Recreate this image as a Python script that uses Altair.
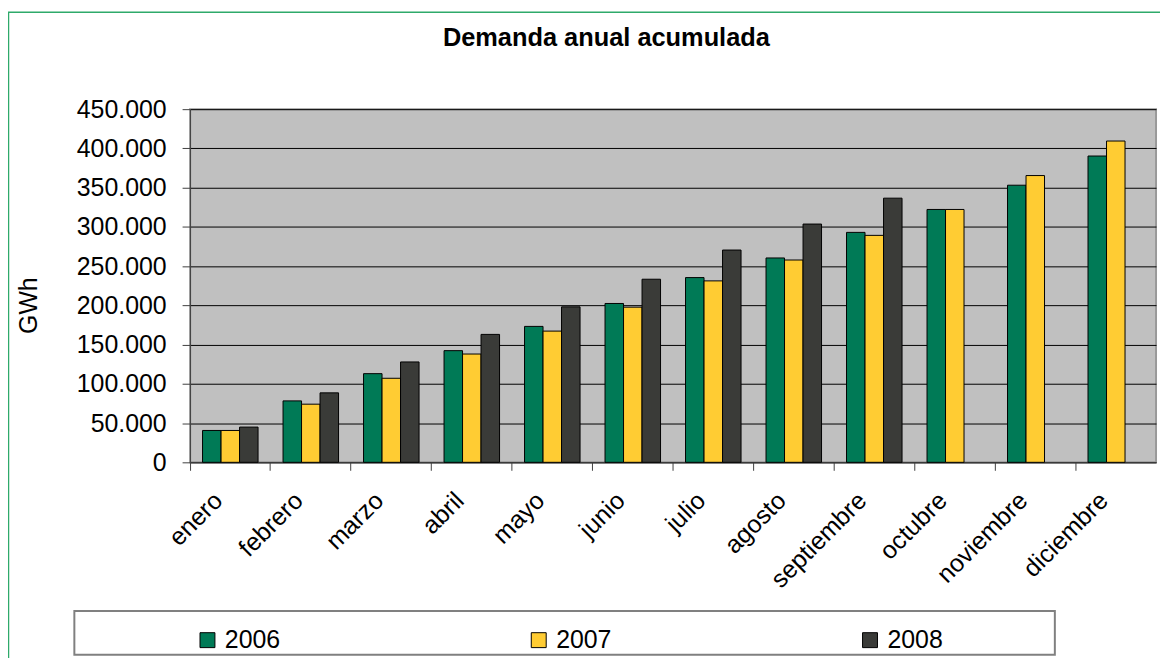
import altair as alt
import pandas as pd

months = ["enero", "febrero", "marzo", "abril", "mayo", "junio", "julio",
          "agosto", "septiembre", "octubre", "noviembre", "diciembre"]
years = ["2006", "2007", "2008"]
d2006 = [40600, 78300, 113000, 142300, 173200, 202400, 235400, 260400, 293000, 322200, 353100, 390300]
d2007 = [40600, 74100, 107100, 138000, 167200, 197700, 231200, 257800, 289200, 322200, 365400, 409400]
d2008 = [44900, 88500, 127900, 163000, 198100, 233300, 270500, 303600, 336600, None, None, None]
y_ticks = [0, 50000, 100000, 150000, 200000, 250000, 300000, 350000, 400000, 450000]
colors = ["#007A56", "#FFCC33", "#3A3B38"]

rows = []
for yr, series in zip(years, [d2006, d2007, d2008]):
    for m, v in zip(months, series):
        if v is not None:
            rows.append({"mes": m, "año": yr, "valor": v})
df = pd.DataFrame(rows)

FONT = "Liberation Sans"
FS = 25

bars = alt.Chart(df).mark_bar(stroke="black", strokeWidth=1).encode(
    x=alt.X("mes:N", sort=months,
            scale=alt.Scale(domain=months, paddingInner=0, paddingOuter=0),
            axis=alt.Axis(title=None, bandPosition=0, labelAngle=-45, labelAlign="right",
                          labelBaseline="middle", labelOffset=-12, labelPadding=26,
                          tickSize=8, tickColor="#404040", domainColor="#404040",
                          labelFontSize=FS, labelFont=FONT, labelColor="black",
                          grid=False, labelOverlap=False)),
    xOffset=alt.XOffset("año:N", scale=alt.Scale(domain=years, paddingInner=0, paddingOuter=0.675)),
    y=alt.Y("valor:Q", scale=alt.Scale(domain=[0, 450000], nice=False),
            axis=alt.Axis(values=y_ticks,
                          labelExpr="replace(format(datum.value, ','), regexp(',', 'g'), '.')",
                          title="GWh", titleAngle=270, titleX=-154, titleY=197,
                          titleAlign="center", titleBaseline="alphabetic",
                          titleFontSize=FS, titleFontWeight="normal", titleFont=FONT,
                          titleColor="black",
                          labelFontSize=FS, labelFont=FONT, labelColor="black",
                          labelPadding=16, labelFlush=False,
                          tickSize=8, tickColor="#404040", domainColor="#404040",
                          grid=True, gridColor="black", gridWidth=1)),
    color=alt.Color("año:N", scale=alt.Scale(domain=years, range=colors),
                    legend=alt.Legend(title=None, orient="none", legendX=5, legendY=521,
                                      direction="horizontal", columns=3, columnPadding=247,
                                      symbolType="square", symbolSize=225,
                                      symbolStrokeColor="black", symbolStrokeWidth=1,
                                      labelFontSize=FS, labelFont=FONT, labelColor="black",
                                      labelOffset=5, padding=0)),
)

border = alt.Chart(alt.Data(values=[{}])).mark_rect(
    fillOpacity=0, stroke="#2EAA6A", strokeWidth=1.5
).encode(x=alt.value(-182.5), x2=alt.value(1200), y=alt.value(-97.3), y2=alt.value(800))

legend_box = alt.Chart(alt.Data(values=[{}])).mark_rect(
    fill="white", stroke="#808080", strokeWidth=2
).encode(x=alt.value(-116.3), x2=alt.value(869.3), y=alt.value(504.5), y2=alt.value(548.5))

chart = alt.layer(border, legend_box, bars).properties(
    width=971, height=355,
    autosize=alt.AutoSizeParams(type="none"),
    padding={"left": 183, "top": 100, "right": 4, "bottom": 195},
    title=alt.TitleParams("Demanda anual acumulada", fontSize=25.5, fontWeight="bold",
                          font=FONT, anchor="middle", frame="group", dx=-67,
                          offset=0, dy=60, baseline="alphabetic", color="black"),
).configure_view(fill="#C0C0C0", stroke="#999999", strokeWidth=2)

chart.save("out.html", embed_options={"renderer": "svg", "actions": False})
